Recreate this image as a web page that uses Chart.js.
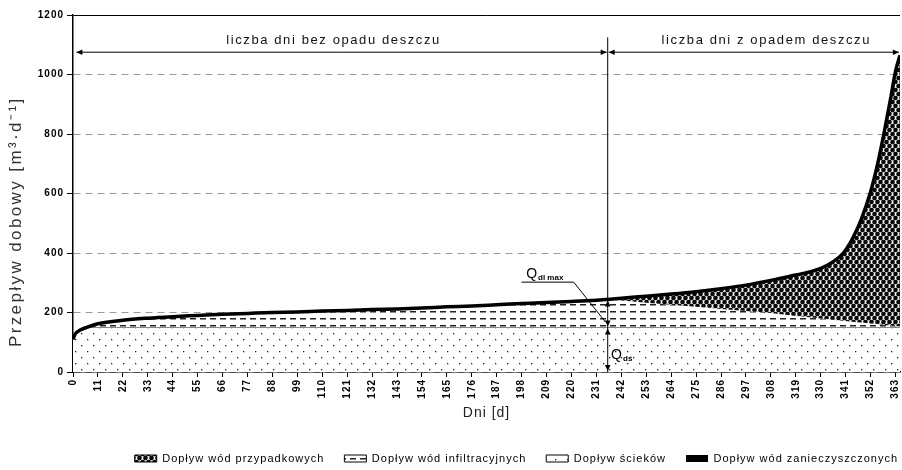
<!DOCTYPE html>
<html>
<head>
<meta charset="utf-8">
<script src="https://cdn.jsdelivr.net/npm/chart.js@4.4.1/dist/chart.umd.min.js"></script>
<style>
  html, body { margin: 0; padding: 0; background: #fff; }
</style>
</head>
<body>
<canvas id="myChart" width="902" height="470"></canvas>
<script>
// days of the year, sorted by daily flow
const days = [0, 1, 3, 6, 11, 22, 33, 44, 55, 66, 77, 88, 99, 110, 121, 132, 143, 154, 165, 176, 187,
    198, 209, 220, 231, 236, 242, 253, 264, 275, 286, 297, 308, 319, 325, 330, 335, 340, 344, 348, 352,
    355, 358, 361, 363, 365];

// total polluted inflow (top of the whole stack)
const totalFlow = [110, 128, 140, 150, 162, 174, 181, 186, 190, 194, 197, 200, 202, 205, 207, 210, 212, 215, 219, 222, 226,
    230, 234, 237, 241, 244, 248, 255, 262, 270, 280, 292, 308, 326, 336, 348, 368, 400, 448, 515, 605,
    695, 805, 925, 1010, 1065];

// sewage + infiltration (top of the infiltration band)
const infiltrationTop = [110, 128, 140, 150, 162, 174, 181, 186, 190, 194, 197, 200, 202, 205, 207, 210, 212, 215, 219, 222, 226,
    230, 234, 237, 241, 244, 240, 233, 226, 219, 212, 205, 198, 188, 184, 180, 176, 172, 169, 166, 163,
    161, 158, 156, 155, 154];

// sewage only
const sewageTop = [110, 128, 140, 150, 150, 150, 150, 150, 150, 150, 150, 150, 150, 150, 150, 150, 150, 150, 150, 150, 150,
    150, 150, 150, 150, 150, 150, 150, 150, 150, 150, 150, 150, 150, 150, 150, 150, 150, 150, 150, 150,
    150, 150, 150, 150, 150];

const tickDays = [0, 11, 22, 33, 44, 55, 66, 77, 88, 99, 110, 121, 132, 143, 154, 165, 176, 187, 198, 209, 220,
    231, 242, 253, 264, 275, 286, 297, 308, 319, 330, 341, 352, 363];

const seriesNames = [
    'Dopływ wód przypadkowych',
    'Dopływ wód infiltracyjnych',
    'Dopływ ścieków',
    'Dopływ wód zanieczyszczonych'
];

const periodLabels = ['liczba dni bez opadu deszczu', 'liczba dni z opadem deszczu'];
const yTitle = 'Przepływ dobowy [m³·d⁻¹]';

// annotation positions in data units
const DIVIDER_DAY = 236;
const DIVIDER_TOP = 1125;
const PERIOD_ARROW_LEVEL = 1075;
const PERIOD_LABEL_LEVEL = 1113;
const PERIOD_START = 1.5;
const PERIOD_END = 364.5;
const PERIOD_LABEL_DAYS = [115, 306];
const SEWAGE_LEVEL = 150;
const Y_TITLE_LEVEL = 505;


const canvas = document.getElementById('myChart');
const mainCtx = canvas.getContext('2d');

function makePattern(w, h, draw) {
    const c = document.createElement('canvas');
    c.width = w;
    c.height = h;
    const g = c.getContext('2d');
    g.fillStyle = '#fff';
    g.fillRect(0, 0, w, h);
    draw(g, w, h);
    return mainCtx.createPattern(c, 'repeat');
}

const rainPattern = makePattern(6, 8, (g, w, h) => {
    g.fillStyle = '#0a0a0a';
    [[1.5, 2], [4.5, 6]].forEach(([cx, cy]) => {
        for (let ox = -w; ox <= w; ox += w) {
            for (let oy = -h; oy <= h; oy += h) {
                g.beginPath();
                g.arc(cx + ox, cy + oy, 2.3, 0, Math.PI * 2);
                g.fill();
            }
        }
    });
});

const infiltrationPattern = makePattern(10, 7, (g) => {
    g.fillStyle = '#222';
    g.fillRect(0, 3, 6, 1.5);
});

const sewagePattern = makePattern(12, 12, (g) => {
    g.fillStyle = '#222';
    g.fillRect(3, 3, 1.3, 1.3);
    g.fillRect(9, 9, 1.3, 1.3);
});

const toPoints = (values) => days.map((d, i) => ({ x: d, y: values[i] }));

function arrowHead(ctx, x, y, dx, dy) {
    const len = 6, half = 2.8;
    ctx.beginPath();
    ctx.moveTo(x, y);
    ctx.lineTo(x - dx * len - dy * half, y - dy * len + dx * half);
    ctx.lineTo(x - dx * len + dy * half, y - dy * len - dx * half);
    ctx.closePath();
    ctx.fill();
}

function doubleArrow(ctx, x1, y1, x2, y2) {
    ctx.beginPath();
    ctx.moveTo(x1, y1);
    ctx.lineTo(x2, y2);
    ctx.stroke();
    const l = Math.hypot(x2 - x1, y2 - y1);
    const dx = (x2 - x1) / l, dy = (y2 - y1) / l;
    arrowHead(ctx, x2, y2, dx, dy);
    arrowHead(ctx, x1, y1, -dx, -dy);
}

function drawQ(ctx, sub, x, y) {
    ctx.textAlign = 'left';
    ctx.textBaseline = 'alphabetic';
    ctx.font = '14px "Liberation Sans", Arial, sans-serif';
    ctx.fillText('Q', x, y);
    const w = ctx.measureText('Q').width;
    ctx.font = 'bold 8px "Liberation Sans", Arial, sans-serif';
    ctx.fillText(sub, x + w + 1, y + 2);
}

const spacingPlugin = {
    id: 'spacing',
    beforeLayout(chart) { chart.ctx.letterSpacing = '1px'; },
    afterLayout(chart) {
        // legend sits flush right and a bit lower, like the original
        const lg = chart.legend;
        if (lg) {
            lg.left += 18;
            lg.right += 18;
            lg.top += 4;
            lg.bottom += 4;
        }
    },
    beforeDraw(chart) { chart.ctx.letterSpacing = '1px'; }
};

const annotationPlugin = {
    id: 'flowAnnotations',
    afterDatasetsDraw(chart) {
        const { ctx, scales: { x, y } } = chart;
        const px = d => x.getPixelForValue(d);
        const py = v => y.getPixelForValue(v);
        ctx.save();
        ctx.strokeStyle = '#000';
        ctx.fillStyle = '#000';
        ctx.lineWidth = 1;

        // divider between dry and rainy days
        ctx.beginPath();
        ctx.moveTo(px(DIVIDER_DAY), py(DIVIDER_TOP));
        ctx.lineTo(px(DIVIDER_DAY), py(0));
        ctx.stroke();

        const ay = py(PERIOD_ARROW_LEVEL);
        doubleArrow(ctx, px(PERIOD_START), ay, px(DIVIDER_DAY) - 1, ay);
        doubleArrow(ctx, px(DIVIDER_DAY) + 1, ay, px(PERIOD_END), ay);

        ctx.font = '13px "Liberation Sans", Arial, sans-serif';
        ctx.letterSpacing = '1.6px';
        ctx.textAlign = 'center';
        ctx.textBaseline = 'middle';
        ctx.fillStyle = '#111';
        ctx.fillText(periodLabels[0], px(PERIOD_LABEL_DAYS[0]), py(PERIOD_LABEL_LEVEL));
        ctx.fillText(periodLabels[1], px(PERIOD_LABEL_DAYS[1]), py(PERIOD_LABEL_LEVEL));
        ctx.letterSpacing = '0px';
        ctx.fillStyle = '#000';

        // flow arrows on the divider
        const dx = px(DIVIDER_DAY);
        const dividerIndex = days.indexOf(DIVIDER_DAY);
        arrowHead(ctx, dx, py(totalFlow[dividerIndex]) + 1, 0, -1);
        arrowHead(ctx, dx, py(SEWAGE_LEVEL) - 1, 0, 1);
        arrowHead(ctx, dx, py(SEWAGE_LEVEL) + 1, 0, -1);
        arrowHead(ctx, dx, py(0) - 1, 0, 1);

        // Q labels with leader
        drawQ(ctx, 'dl max', px(200), py(316));
        ctx.beginPath();
        ctx.moveTo(px(198), py(302));
        ctx.lineTo(px(221), py(302));
        ctx.lineTo(px(235), py(168));
        ctx.stroke();
        drawQ(ctx, 'dś', px(237.5), py(45));

        ctx.restore();
    },
    afterDraw(chart) {
        // y axis title, sitting a little below the middle of the axis
        const { ctx, scales: { y } } = chart;
        ctx.save();
        ctx.translate(y.left + 14, y.getPixelForValue(Y_TITLE_LEVEL));
        ctx.rotate(-Math.PI / 2);
        ctx.font = '17px "Liberation Sans", Arial, sans-serif';
        ctx.letterSpacing = '2.4px';
        ctx.fillStyle = '#333';
        ctx.textAlign = 'center';
        ctx.textBaseline = 'middle';
        ctx.fillText(yTitle, 0, 0);
        ctx.restore();
    }
};

const lineDefaults = {
    pointRadius: 0,
    cubicInterpolationMode: 'monotone'
};

const myChart = new Chart(mainCtx, {
    type: 'line',
    data: {
        datasets: [
            {
                ...lineDefaults,
                label: seriesNames[0],
                data: toPoints(totalFlow),
                backgroundColor: rainPattern,
                borderColor: 'rgba(0,0,0,0)',
                borderWidth: 0,
                fill: '+1'
            },
            {
                ...lineDefaults,
                label: seriesNames[1],
                data: toPoints(infiltrationTop),
                backgroundColor: infiltrationPattern,
                borderColor: 'rgba(0,0,0,0)',
                borderWidth: 0,
                fill: '+1'
            },
            {
                ...lineDefaults,
                label: seriesNames[2],
                data: toPoints(sewageTop),
                backgroundColor: sewagePattern,
                borderColor: '#111',
                borderWidth: 1.2,
                fill: 'origin'
            },
            {
                ...lineDefaults,
                label: seriesNames[3],
                data: toPoints(totalFlow),
                backgroundColor: '#000',
                borderColor: '#000',
                borderWidth: 3.5,
                fill: false,
                order: -1
            }
        ]
    },
    options: {
        responsive: false,
        animation: false,
        events: [],
        layout: {
            autoPadding: false,
            padding: { top: 15, right: 2, left: 2, bottom: 0 }
        },
        font: { family: '"Liberation Sans", Arial, sans-serif' },
        scales: {
            x: {
                type: 'linear',
                min: 0,
                max: 365,
                afterBuildTicks: (scale) => {
                    scale.ticks = tickDays.map(v => ({ value: v }));
                },
                afterFit: (scale) => {
                    scale.height = 57;
                    scale.paddingLeft = 0;
                    scale.paddingRight = 0;
                },
                ticks: {
                    autoSkip: false,
                    minRotation: 90,
                    maxRotation: 90,
                    padding: 2,
                    color: '#000',
                    font: { size: 10, weight: 'bold' }
                },
                grid: {
                    drawOnChartArea: false,
                    tickLength: 5,
                    tickColor: '#000'
                },
                border: { color: '#000', width: 1.5 },
                title: {
                    display: true,
                    text: 'Dni [d]',
                    color: '#222',
                    font: { size: 14 },
                    padding: { top: 2, bottom: 7 }
                }
            },
            y: {
                min: 0,
                max: 1200,
                afterFit: (scale) => { scale.width = 71; },
                ticks: {
                    stepSize: 200,
                    padding: 3,
                    color: '#000',
                    font: { size: 10, weight: 'bold' },
                    callback: (v) => String(v)
                },
                grid: {
                    color: (c) => (c.tick && c.tick.value === 1200 ? '#000' : '#9a9a9a'),
                    tickColor: '#000',
                    tickLength: 6
                },
                border: {
                    color: '#000',
                    width: 1.5,
                    dash: (c) => (c.tick && c.tick.value === 1200 ? [] : [7, 5])
                },
                title: { display: false }
            }
        },
        plugins: {
            legend: {
                position: 'bottom',
                align: 'end',
                labels: {
                    color: '#000',
                    boxWidth: 22,
                    boxHeight: 7,
                    padding: 20,
                    font: { size: 11 },
                    sort: (a, b) => a.datasetIndex - b.datasetIndex,
                    generateLabels: (chart) => {
                        const items = Chart.defaults.plugins.legend.labels.generateLabels(chart);
                        items.forEach(it => {
                            it.strokeStyle = '#000';
                            it.lineWidth = it.datasetIndex === 3 ? 0 : 1;
                            it.lineDash = [];
                            if (it.datasetIndex === 3) it.fillStyle = '#000';
                        });
                        return items;
                    }
                }
            },
            tooltip: { enabled: false }
        }
    },
    plugins: [spacingPlugin, annotationPlugin]
});
</script>
</body>
</html>
